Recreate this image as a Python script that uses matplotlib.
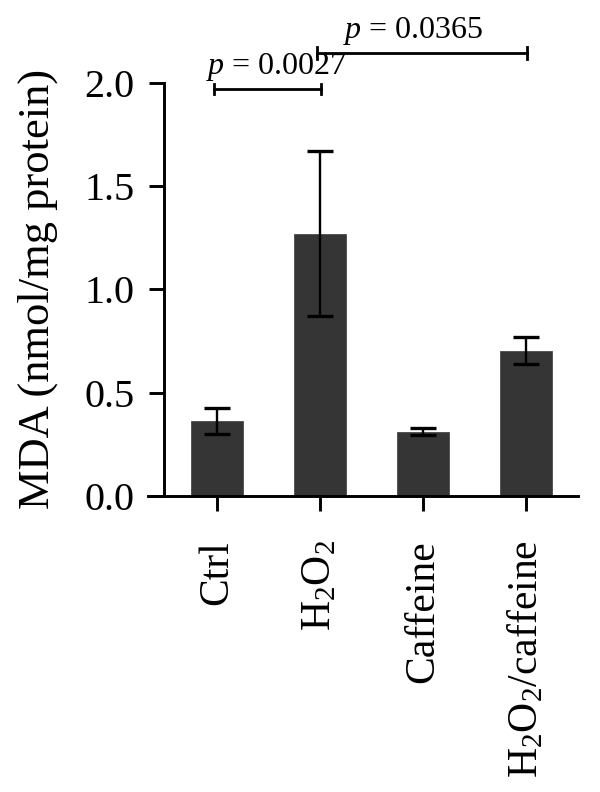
import matplotlib
matplotlib.use('Agg')
import matplotlib.pyplot as plt
import numpy as np

plt.rcParams['font.family'] = 'Liberation Serif'
plt.rcParams['mathtext.fontset'] = 'custom'
plt.rcParams['mathtext.rm'] = 'Liberation Serif'
plt.rcParams['mathtext.it'] = 'Liberation Serif:italic'

# data
groups = ['Ctrl', r'H$_2$O$_2$', 'Caffeine', r'H$_2$O$_2$/caffeine']
means = [0.363, 1.27, 0.31, 0.703]
errors = [0.062, 0.40, 0.016, 0.067]
# significance comparisons (group index pairs) and their p values
pairs = [(0, 1), (1, 3)]
p_texts = [r'$p$ = 0.0027', r'$p$ = 0.0365']

fig = plt.figure(figsize=(6, 7.92), dpi=100)
ax = fig.add_axes([0.2467, 0.3741, 0.7167, 0.5211])

x = np.arange(len(groups))
ax.bar(x, means, width=0.505, color='#353535', edgecolor='#4a4a4a', linewidth=0.6, zorder=2)
ax.errorbar(x, means, yerr=errors, fmt='none', ecolor='black', elinewidth=1.7,
            capsize=9.5, capthick=2.4, zorder=3)

ax.set_xlim(-0.665, 3.505)
ax.set_ylim(0, 2.0)
ax.set_yticks([0.0, 0.5, 1.0, 1.5, 2.0])
ax.set_yticklabels(['0.0', '0.5', '1.0', '1.5', '2.0'])
ax.set_xticks(x)
ax.set_xticklabels(groups, rotation=90, va='top')

ax.spines['top'].set_visible(False)
ax.spines['right'].set_visible(False)
ax.spines['left'].set_position(('data', -0.51))
for s in ['left', 'bottom']:
    ax.spines[s].set_linewidth(2.1)
ax.tick_params(axis='y', length=11, width=2.1, pad=10, labelsize=29)
ax.tick_params(axis='x', length=11, width=2.1, pad=21, labelsize=30)
ax.set_ylabel('MDA (nmol/mg protein)', fontsize=32, labelpad=19)

# significance brackets
bracket_y = [1.971, 2.144]
tick_h = [0.022, 0.029]
text_x = [0.583, 1.905]
for (a, b), txt, yb, th, tx in zip(pairs, p_texts, bracket_y, tick_h, text_x):
    xa, xb = a - 0.03, b + 0.01
    ax.plot([xa, xb], [yb, yb], color='black', lw=2.0, clip_on=False)
    for xx in (xa, xb):
        ax.plot([xx, xx], [yb - th, yb + th], color='black', lw=2.0, clip_on=False)
    ax.text(tx, yb + 0.03, txt, ha='center', va='bottom', fontsize=23, clip_on=False)

fig.savefig('out.png', dpi=100)
